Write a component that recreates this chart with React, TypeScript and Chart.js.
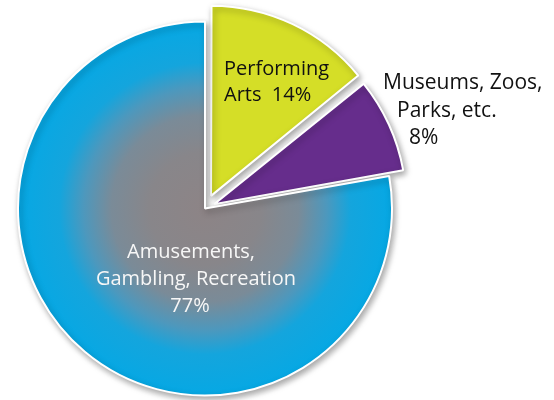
import React, { useEffect, useRef } from "react";
import { Chart, registerables } from "chart.js";

Chart.register(...registerables);

const categories = ["Performing Arts", "Museums, Zoos, Parks, etc.", "Amusements, Gambling, Recreation"];
const shares = [14, 8, 77];
const labelLines = [
  ["Performing", "Arts  14%"],
  ["Museums, Zoos,", "Parks, etc.", "8%"],
  ["Amusements,", "Gambling, Recreation", "77%"],
];
const sliceColors = ["#d5de27", "#662d8c", "#0ea7e0"];
const sliceOffsets = [56, 40, 0];

const PIE_RADIUS = 187;

export default function App() {
  const ref = useRef<HTMLCanvasElement | null>(null);

  useEffect(() => {
    const canvas = ref.current;
    if (!canvas) return;

    const fill = (c: any) => {
      const i = c.dataIndex;
      if (i !== 2) return sliceColors[i];
      const chart = c.chart;
      const area = chart.chartArea;
      if (!area) return sliceColors[2];
      const cx = (area.left + area.right) / 2;
      const cy = (area.top + area.bottom) / 2;
      const g = chart.ctx.createRadialGradient(cx, cy, 0, cx, cy, PIE_RADIUS);
      g.addColorStop(0, "#8d8486");
      g.addColorStop(0.3, "#88868a");
      g.addColorStop(0.5, "#7a8b98");
      g.addColorStop(0.65, "#4d98bd");
      g.addColorStop(0.78, "#14a5dd");
      g.addColorStop(1, "#06a8e4");
      return g;
    };

    const shadowPlugin = {
      id: "shadow",
      beforeDatasetDraw(chart: any) {
        const ctx = chart.ctx;
        ctx.save();
        ctx.shadowColor = "rgba(0,0,0,0.35)";
        ctx.shadowBlur = 6;
        ctx.shadowOffsetX = 2;
        ctx.shadowOffsetY = 3;
      },
      afterDatasetDraw(chart: any) {
        chart.ctx.restore();
      },
    };

    const labelPlugin = {
      id: "sliceLabels",
      afterDatasetsDraw(chart: any) {
        const ctx = chart.ctx;
        const arc = chart.getDatasetMeta(0).data[0];
        if (!arc) return;
        const cx = arc.x;
        const cy = arc.y;
        ctx.save();
        ctx.textBaseline = "alphabetic";
        ctx.fillStyle = "#111";
        ctx.textAlign = "left";
        // Performing Arts
        ctx.font = "20px 'Open Sans', Lato, sans-serif";
        ctx.fillText(labelLines[0][0], cx + 19, cy - 134);
        ctx.fillText(labelLines[0][1], cx + 19, cy - 108);
        // Museums
        ctx.font = "21px 'Open Sans', Lato, sans-serif";
        ctx.fillText(labelLines[1][0], cx + 178, cy - 120);
        ctx.fillText(labelLines[1][1], cx + 192, cy - 92);
        ctx.fillText(labelLines[1][2], cx + 204, cy - 65);
        // Amusements
        ctx.font = "20px 'Open Sans', Lato, sans-serif";
        ctx.fillStyle = "#f7f7f7";
        ctx.textAlign = "center";
        ctx.fillText(labelLines[2][0], cx - 14, cy + 49.5);
        ctx.fillText(labelLines[2][1], cx - 9, cy + 76.5);
        ctx.fillText(labelLines[2][2], cx - 15, cy + 103.5);
        ctx.restore();
      },
    };

    const chart = new Chart(canvas, {
      type: "pie",
      data: {
        labels: categories,
        datasets: [
          {
            data: shares,
            backgroundColor: fill as any,
            borderColor: "#ffffff",
            borderWidth: 2,
            offset: sliceOffsets,
            hoverOffset: 0,
            radius: PIE_RADIUS,
          } as any,
        ],
      },
      options: {
        responsive: false,
        animation: false,
        layout: { padding: { left: 0, right: 144, top: 17, bottom: 0 } },
        plugins: {
          legend: { display: false },
          tooltip: { enabled: false },
        },
        events: [],
      },
      plugins: [shadowPlugin, labelPlugin],
    });

    return () => chart.destroy();
  }, []);

  return (
    <div style={{ position: "fixed", left: 0, top: 0, width: 554, height: 400, background: "#fff" }}>
      <canvas ref={ref} width={554} height={400} style={{ display: "block" }} />
    </div>
  );
}
